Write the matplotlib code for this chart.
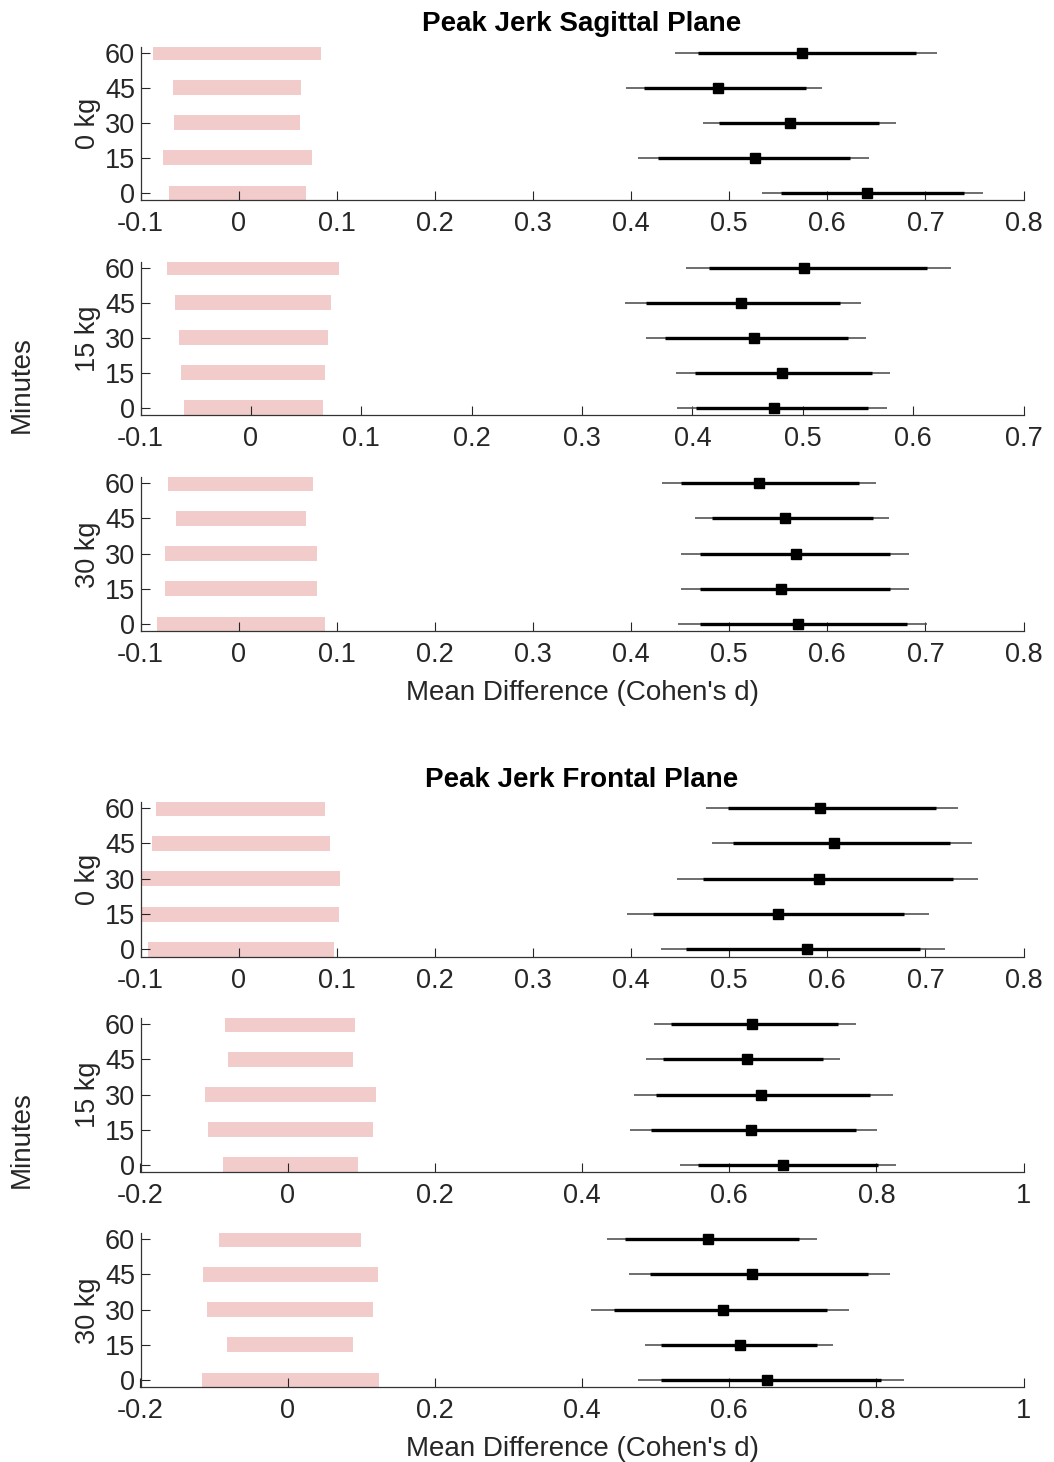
import numpy as np
import matplotlib
matplotlib.use("Agg")
import matplotlib.pyplot as plt
from matplotlib.ticker import FuncFormatter

plt.rcParams["font.family"] = ["Liberation Sans", "DejaVu Sans"]
plt.rcParams["axes.unicode_minus"] = False

# data: rows = panels (sagittal 0/15/30 kg, frontal 0/15/30 kg), cols = minutes 0,15,30,45,60
minutes = [0, 15, 30, 45, 60]
loads = ["0 kg", "15 kg", "30 kg", "0 kg", "15 kg", "30 kg"]
titles = ["Peak Jerk Sagittal Plane", "Peak Jerk Frontal Plane"]
xlims = [(-0.1, 0.8), (-0.1, 0.7), (-0.1, 0.8), (-0.1, 0.8), (-0.2, 1.0), (-0.2, 1.0)]
xticks = [np.arange(-0.1, 0.81, 0.1), np.arange(-0.1, 0.71, 0.1), np.arange(-0.1, 0.81, 0.1),
          np.arange(-0.1, 0.81, 0.1), np.arange(-0.2, 1.01, 0.2), np.arange(-0.2, 1.01, 0.2)]

rope_lo = [[-0.071, -0.077, -0.066, -0.067, -0.087],
           [-0.061, -0.063, -0.065, -0.069, -0.076],
           [-0.083, -0.075, -0.075, -0.064, -0.072],
           [-0.092, -0.098, -0.105, -0.088, -0.084],
           [-0.088, -0.108, -0.112, -0.081, -0.085],
           [-0.117, -0.082, -0.110, -0.115, -0.093]]
rope_hi = [[0.069, 0.075, 0.063, 0.064, 0.084],
           [0.065, 0.067, 0.070, 0.073, 0.080],
           [0.088, 0.080, 0.080, 0.069, 0.076],
           [0.097, 0.102, 0.103, 0.093, 0.088],
           [0.096, 0.116, 0.120, 0.089, 0.092],
           [0.124, 0.089, 0.116, 0.123, 0.099]]
ci_lo = [[0.533, 0.407, 0.473, 0.395, 0.445],
         [0.386, 0.385, 0.358, 0.339, 0.394],
         [0.448, 0.451, 0.451, 0.465, 0.432],
         [0.431, 0.396, 0.447, 0.482, 0.476],
         [0.533, 0.465, 0.471, 0.487, 0.498],
         [0.476, 0.485, 0.412, 0.464, 0.434]]
ci_hi = [[0.759, 0.643, 0.670, 0.595, 0.712],
         [0.576, 0.579, 0.557, 0.553, 0.634],
         [0.702, 0.683, 0.683, 0.663, 0.650],
         [0.720, 0.704, 0.754, 0.748, 0.733],
         [0.827, 0.801, 0.822, 0.751, 0.772],
         [0.838, 0.741, 0.763, 0.818, 0.719]]
in_lo = [[0.553, 0.427, 0.490, 0.413, 0.468],
         [0.403, 0.402, 0.375, 0.358, 0.415],
         [0.470, 0.470, 0.470, 0.482, 0.451],
         [0.456, 0.422, 0.473, 0.504, 0.499],
         [0.558, 0.494, 0.501, 0.510, 0.521],
         [0.507, 0.507, 0.443, 0.493, 0.459]]
in_hi = [[0.739, 0.623, 0.653, 0.578, 0.690],
         [0.559, 0.563, 0.541, 0.534, 0.613],
         [0.681, 0.664, 0.664, 0.647, 0.632],
         [0.695, 0.678, 0.728, 0.725, 0.711],
         [0.802, 0.772, 0.792, 0.728, 0.748],
         [0.807, 0.719, 0.733, 0.788, 0.695]]
means = [[0.640, 0.526, 0.562, 0.489, 0.574],
         [0.474, 0.481, 0.456, 0.444, 0.501],
         [0.570, 0.553, 0.568, 0.557, 0.530],
         [0.579, 0.550, 0.592, 0.607, 0.593],
         [0.673, 0.629, 0.643, 0.624, 0.631],
         [0.652, 0.615, 0.591, 0.631, 0.571]]

W, H = 1054, 1462
fig = plt.figure(figsize=(W / 100, H / 100), dpi=100)

# panel pixel extents (top, bottom)
tops = [46.7, 261.7, 477.3, 802.3, 1018.5, 1233.3]
bots = [200.3, 415.0, 631.3, 956.7, 1172.0, 1387.3]
left, right = 140.5, 1023.5

txt = "#262626"
fs = 19.5
fmt = FuncFormatter(lambda v, p: f"{v:g}" if abs(v) > 1e-9 else "0")

axes = []
for i in range(6):
    ax = fig.add_axes([left / W, 1 - bots[i] / H, (right - left) / W, (bots[i] - tops[i]) / H])
    axes.append(ax)
    lo = np.array(rope_lo[i])
    hi = np.array(rope_hi[i])
    ax.barh(minutes, hi - lo, left=lo, height=6.4, color="#F2CBCB", edgecolor="none", zorder=1)
    ax.hlines(minutes, ci_lo[i], ci_hi[i], color="#555555", lw=1.2, zorder=2)
    ax.hlines(minutes, in_lo[i], in_hi[i], color="black", lw=2.4, zorder=3)
    ax.plot(means[i], minutes, "s", color="black", ms=7.5, zorder=4)

    ax.set_xlim(*xlims[i])
    ax.set_ylim(-3.1, 62.5)
    ax.set_xticks(xticks[i])
    ax.xaxis.set_major_formatter(fmt)
    ax.set_yticks(minutes)
    for s in ["top", "right"]:
        ax.spines[s].set_visible(False)
    for s in ["left", "bottom"]:
        ax.spines[s].set_color("#333333")
        ax.spines[s].set_linewidth(0.9)
    ax.tick_params(axis="both", direction="in", length=6.5, width=0.8, color="#262626",
                   labelsize=fs, labelcolor=txt)
    ax.tick_params(axis="x", pad=8)
    ax.tick_params(axis="y", pad=4)
    ax.set_ylabel(loads[i], fontsize=fs, color=txt, labelpad=3)

axes[0].set_title(titles[0], fontsize=20, fontweight="bold", pad=11)
axes[3].set_title(titles[1], fontsize=20, fontweight="bold", pad=11)
axes[2].set_xlabel("Mean Difference (Cohen's d)", fontsize=20, color=txt, labelpad=8)
axes[5].set_xlabel("Mean Difference (Cohen's d)", fontsize=20, color=txt, labelpad=8)

fig.text(22 / W, 1 - 385 / H, "Minutes", rotation=90, ha="center", va="center", fontsize=20, color=txt)
fig.text(22 / W, 1 - 1140 / H, "Minutes", rotation=90, ha="center", va="center", fontsize=20, color=txt)

fig.savefig("out.png", dpi=100)
